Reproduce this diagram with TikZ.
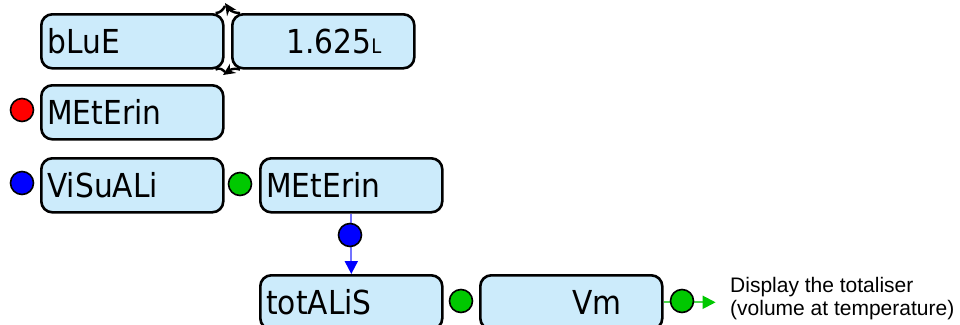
\documentclass[tikz,border=0pt]{standalone}
\usepackage{fontspec}
\usetikzlibrary{arrows.meta}
\newfontfamily\panelfont[FakeStretch=0.9]{DejaVu Sans}
\newfontfamily\notefont{Liberation Sans}
\definecolor{panelfill}{RGB}{204,235,251}
\definecolor{okgreen}{RGB}{0,200,0}

\begin{document}
\begin{tikzpicture}[x=1pt,y=-1pt,
  panel/.style={draw,line width=2.6pt,rounded corners=11pt,fill=panelfill,
    minimum width=182pt,minimum height=54pt,inner xsep=6pt,text width=170pt,
    align=left,anchor=north west,font=\panelfont\fontsize{33}{36}\selectfont},
  value/.style={panel,align=right},
  dot/.style={circle,draw,line width=1.6pt,minimum size=23pt,inner sep=0pt}]
\useasboundingbox (0,0) rectangle (960,324);

% display menu
\node[panel] (blue) at (40,13) {bLuE};
\node[value] (vol) at (231,13) {1.625{\fontsize{20}{20}\selectfont L}\rule{27pt}{0pt}};
\node[panel] (meter) at (40,84) {MEtErin};
\node[panel] (visual) at (40,157) {ViSuALi};
\node[panel] (meterb) at (259,157) {MEtErin};
\node[panel] (total) at (259,274) {totALiS};
\node[value] (vm) at (479,274) {Vm\rule{35pt}{0pt}};

% toggle between the two top panels
\draw[line width=2.4pt,-{Stealth[length=12pt,width=11pt]}] ([xshift=9pt]vol.north west) .. controls (232,13) and (229,9) .. (225,3);
\draw[line width=2.4pt] ([xshift=-9pt]blue.north east) .. controls (220,13) and (223,10) .. (225,6);
\draw[line width=2.4pt,-{Stealth[length=12pt,width=11pt]}] ([xshift=9pt]vol.south west) .. controls (232,67) and (229,71) .. (223,75);
\draw[line width=2.4pt] ([xshift=-9pt]blue.south east) .. controls (220,67) and (223,70) .. (225,72);

% keys
\node[dot,fill=red] (kred) at (22,110) {};
\node[dot,fill=blue] (kblue) at (22,183) {};
\node[dot,fill=okgreen] (kgreen) at (240,184) {};
\node[dot,fill=okgreen] (kgreenb) at (461,301) {};

\draw[blue!55,line width=2pt,-{Triangle[length=13pt,width=13pt,color=blue]}] (meterb.south) -- (total.north);
\node[dot,fill=blue] (kdown) at (350,235) {};

\draw[okgreen!70,line width=2pt,-{Triangle[length=13pt,width=13pt,color=okgreen]}] (vm.east) -- ++(52,0) coordinate (shown);
\node[dot,fill=okgreen] (kout) at (682,301) {};
\node[anchor=west,align=left,inner sep=0pt,font=\notefont\fontsize{21}{23}\selectfont] (note) at (730,299)
  {Display the totaliser\\(volume at temperature)};
\end{tikzpicture}
\end{document}
